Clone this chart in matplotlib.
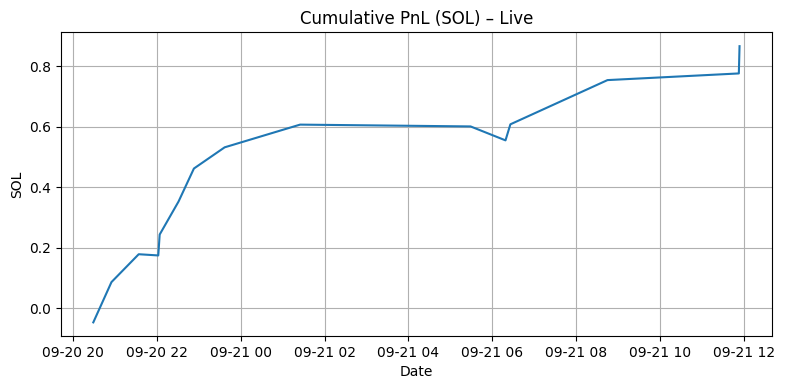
import matplotlib
matplotlib.use("Agg")
import matplotlib.pyplot as plt
import matplotlib.dates as mdates
import pandas as pd

times = ["2025-09-20 20:29", "2025-09-20 20:55", "2025-09-20 21:34",
         "2025-09-20 22:02", "2025-09-20 22:04", "2025-09-20 22:31",
         "2025-09-20 22:53", "2025-09-20 23:37", "2025-09-21 01:25",
         "2025-09-21 05:29", "2025-09-21 06:19", "2025-09-21 06:26",
         "2025-09-21 08:45", "2025-09-21 11:53", "2025-09-21 11:54"]
pnl = [-0.046, 0.087, 0.179, 0.175, 0.244, 0.353, 0.462, 0.532, 0.607,
       0.601, 0.555, 0.608, 0.754, 0.776, 0.866]

dates = pd.to_datetime(times)

fig, ax = plt.subplots(figsize=(7.86, 3.9), dpi=100)
ax.plot(dates, pnl)
ax.set_title("Cumulative PnL (SOL) \u2013 Live")
ax.set_xlabel("Date")
ax.set_ylabel("SOL")
ax.xaxis.set_major_locator(mdates.HourLocator(interval=2))
ax.xaxis.set_major_formatter(mdates.DateFormatter("%m-%d %H"))
ax.grid(True)
fig.subplots_adjust(left=0.0776, right=0.982, top=0.917, bottom=0.138)
fig.savefig("out.png", dpi=100)
